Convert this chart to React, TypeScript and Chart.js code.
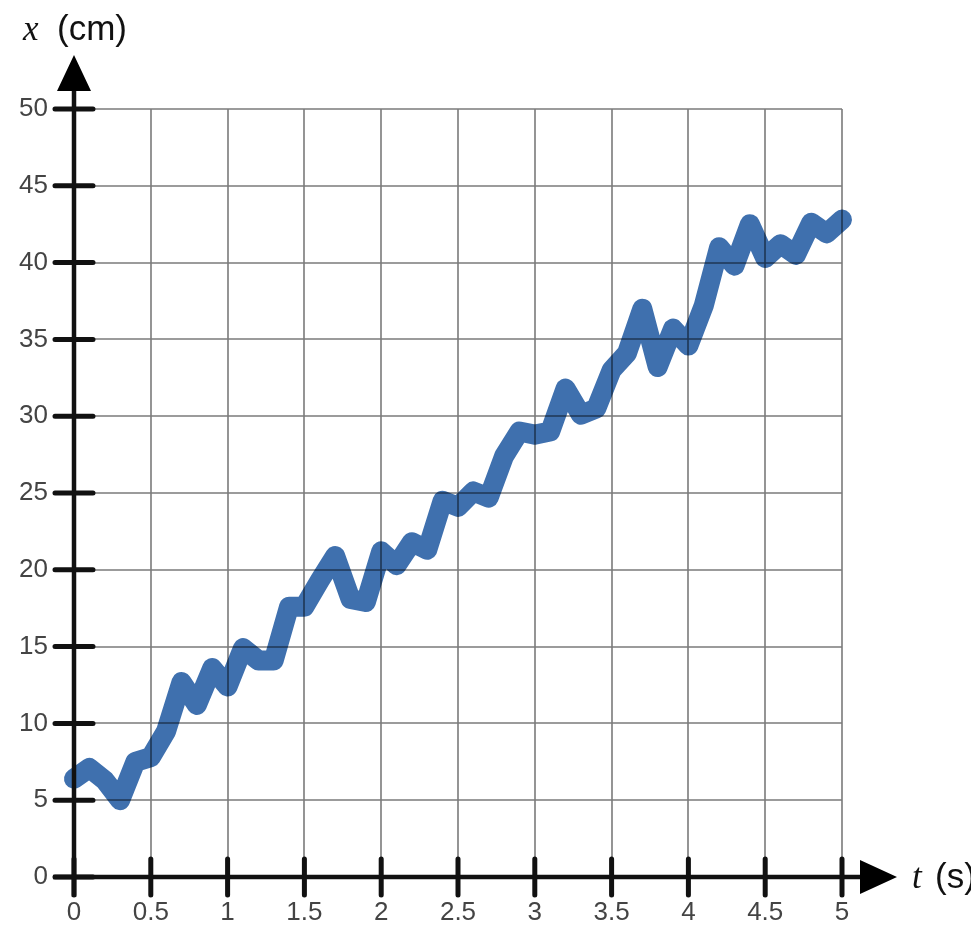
import React, { useEffect, useRef } from 'react';
import { Chart, registerables } from 'chart.js';

Chart.register(...registerables);

// time samples (s) and position (cm)
const times = [
  0, 0.1, 0.2, 0.3, 0.4, 0.5, 0.6, 0.7, 0.8, 0.9,
  1, 1.1, 1.2, 1.3, 1.4, 1.5, 1.6, 1.7, 1.8, 1.9,
  2, 2.1, 2.2, 2.3, 2.4, 2.5, 2.6, 2.7, 2.8, 2.9,
  3, 3.1, 3.2, 3.3, 3.4, 3.5, 3.6, 3.7, 3.8, 3.9,
  4, 4.1, 4.2, 4.3, 4.4, 4.5, 4.6, 4.7, 4.8, 4.9, 5,
];
const positions = [
  6.4, 7.1, 6.3, 5.0, 7.5, 7.8, 9.5, 12.7, 11.2, 13.6,
  12.4, 14.9, 14.1, 14.1, 17.6, 17.6, 19.3, 20.9, 18.1, 17.9,
  21.2, 20.3, 21.8, 21.3, 24.5, 24.1, 25.1, 24.7, 27.4, 29.0,
  28.8, 29.0, 31.8, 30.1, 30.5, 33.0, 34.1, 37.0, 33.2, 35.7,
  34.6, 37.2, 41.0, 39.8, 42.5, 40.3, 41.2, 40.5, 42.6, 41.9, 42.8,
];
const xTitle = 't';
const xUnit = '(s)';
const yTitle = 'x';
const yUnit = '(cm)';

// grid, axes, arrows and titles are drawn on top of the data line
const axisDecor = {
  id: 'axisDecor',
  afterDatasetsDraw(chart: any) {
    const { ctx, chartArea } = chart;
    const xs = chart.scales.x;
    const ys = chart.scales.y;
    const x0 = xs.getPixelForValue(0);
    const y0 = ys.getPixelForValue(0);
    const xEnd = xs.getPixelForValue(5);
    const yTop = ys.getPixelForValue(50);

    ctx.save();

    // grid lines
    ctx.strokeStyle = 'rgba(0,0,0,0.52)';
    ctx.lineWidth = 1.6;
    ctx.beginPath();
    xs.ticks.forEach((t: any) => {
      const p = Math.round(xs.getPixelForValue(t.value));
      ctx.moveTo(p, chartArea.top);
      ctx.lineTo(p, chartArea.bottom);
    });
    ys.ticks.forEach((t: any) => {
      const p = Math.round(ys.getPixelForValue(t.value));
      ctx.moveTo(chartArea.left, p);
      ctx.lineTo(chartArea.right, p);
    });
    ctx.stroke();

    ctx.strokeStyle = '#111';
    ctx.fillStyle = '#000';
    ctx.lineCap = 'butt';

    // axis lines
    ctx.lineWidth = 4.5;
    ctx.beginPath();
    ctx.moveTo(x0, y0 + 20);
    ctx.lineTo(x0, yTop - 22);
    ctx.moveTo(x0 - 21, y0);
    ctx.lineTo(xEnd + 20, y0);
    ctx.stroke();

    // tick marks
    ctx.lineWidth = 5;
    ctx.lineCap = 'round';
    ctx.beginPath();
    ys.ticks.forEach((t: any) => {
      const p = ys.getPixelForValue(t.value);
      ctx.moveTo(x0 - 19, p);
      ctx.lineTo(x0 + 19, p);
    });
    xs.ticks.forEach((t: any) => {
      const p = xs.getPixelForValue(t.value);
      ctx.moveTo(p, y0 - 18);
      ctx.lineTo(p, y0 + 18);
    });
    ctx.stroke();

    // arrow heads
    ctx.beginPath();
    ctx.moveTo(x0, yTop - 54);
    ctx.lineTo(x0 - 17, yTop - 18);
    ctx.lineTo(x0 + 17, yTop - 18);
    ctx.closePath();
    ctx.moveTo(xEnd + 55, y0);
    ctx.lineTo(xEnd + 18, y0 - 17);
    ctx.lineTo(xEnd + 18, y0 + 17);
    ctx.closePath();
    ctx.fill();

    // axis titles
    ctx.fillStyle = '#111';
    ctx.textAlign = 'left';
    ctx.textBaseline = 'alphabetic';
    ctx.font = 'italic 35px "Liberation Serif", serif';
    ctx.fillText(yTitle, 23, 40);
    ctx.fillText(xTitle, xEnd + 70, y0 + 11);
    ctx.font = '35px "Liberation Sans", Arial, sans-serif';
    ctx.fillText(yUnit, 57, 40);
    ctx.fillText(xUnit, xEnd + 93, y0 + 11);
    ctx.restore();
  },
};

export default function App() {
  const canvasRef = useRef<HTMLCanvasElement>(null);
  const chartRef = useRef<Chart | null>(null);

  useEffect(() => {
    if (!canvasRef.current) return;
    if (chartRef.current) chartRef.current.destroy();

    const tickFont = { family: '"Liberation Sans", Arial, sans-serif', size: 26 };

    chartRef.current = new Chart(canvasRef.current, {
      type: 'line',
      data: {
        datasets: [
          {
            data: times.map((t, i) => ({ x: t, y: positions[i] })),
            borderColor: '#3f70ae',
            borderWidth: 20,
            borderJoinStyle: 'round',
            borderCapStyle: 'round',
            pointRadius: 0,
            tension: 0,
            fill: false,
            clip: false,
          },
        ],
      },
      options: {
        responsive: false,
        animation: false,
        layout: { padding: { top: 109, right: 129, left: 0, bottom: 0 } },
        plugins: { legend: { display: false }, tooltip: { enabled: false } },
        scales: {
          x: {
            type: 'linear',
            min: 0,
            max: 5,
            grid: { display: false, drawTicks: false },
            border: { display: false },
            ticks: {
              stepSize: 0.5,
              autoSkip: false,
              maxRotation: 0,
              color: '#444',
              font: tickFont,
              padding: 20,
              callback: (v: any) => String(Number(v)),
            },
            afterFit: (scale: any) => {
              scale.height = 73;
            },
          },
          y: {
            min: 0,
            max: 50,
            grid: { display: false, drawTicks: false },
            border: { display: false },
            ticks: {
              stepSize: 5,
              color: '#444',
              font: tickFont,
              padding: 26,
            },
            afterFit: (scale: any) => {
              scale.width = 74;
            },
          },
        },
      },
      plugins: [axisDecor],
    });

    return () => {
      if (chartRef.current) {
        chartRef.current.destroy();
        chartRef.current = null;
      }
    };
  }, []);

  return (
    <div style={{ position: 'absolute', left: 0, top: 0, width: 971, height: 950, background: '#fff' }}>
      <canvas ref={canvasRef} width={971} height={950}></canvas>
    </div>
  );
}
